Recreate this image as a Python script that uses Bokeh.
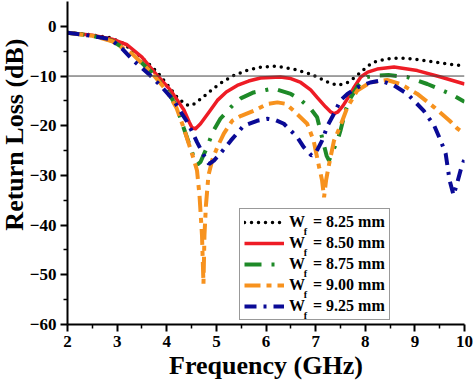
from bokeh.plotting import figure
from bokeh.models import Span, Label, FixedTicker, Range1d, Title
from bokeh.embed import file_html
from bokeh.resources import INLINE

# ---------------- data ----------------
freq_825 = [2.0, 2.4, 2.87, 3.1, 3.4, 3.6, 3.81, 4.0, 4.21, 4.38, 4.46, 4.54, 4.7, 4.94, 5.15, 5.35, 5.6, 5.89,
            6.2, 6.56, 6.9, 7.1, 7.24, 7.44, 7.64, 7.8, 7.91, 8.05, 8.17, 8.4, 8.58, 8.8, 8.98, 9.2, 9.39, 9.7, 10.0]
rl_825 = [-1.3, -1.6, -2.3, -3.3, -5.5, -7.2, -9.2, -11.6, -14.3, -15.7, -16.0, -15.7, -14.5, -12.5, -11.0, -9.9, -8.9, -8.2,
          -8.0, -8.6, -9.6, -10.5, -11.2, -11.9, -11.3, -10.2, -9.2, -8.0, -7.2, -6.6, -6.4, -6.4, -6.6, -6.9, -7.2, -7.6, -8.0]

freq_850 = [2.0, 2.5, 2.9, 3.2, 3.5, 3.81, 4.08, 4.35, 4.45, 4.51, 4.58, 4.68, 4.85, 5.02, 5.2, 5.42, 5.65, 5.89,
            6.29, 6.5, 6.7, 6.9, 7.03, 7.2, 7.3, 7.37, 7.45, 7.55, 7.64, 7.78, 7.91, 8.05, 8.24, 8.58, 9.05, 9.52, 10.0]
rl_850 = [-1.3, -1.8, -2.6, -3.7, -6.2, -9.9, -12.9, -16.9, -19.2, -20.4, -20.6, -19.6, -17.3, -14.9, -13.2, -11.9, -11.0, -10.4,
          -10.2, -10.5, -11.3, -12.8, -14.3, -16.2, -17.2, -17.6, -17.2, -16.0, -14.6, -12.2, -10.2, -9.2, -8.6, -8.2, -8.9, -10.2, -11.6]

freq_875 = [2.0, 2.5, 2.9, 3.3, 3.7, 4.0, 4.2, 4.34, 4.48, 4.56, 4.62, 4.68, 4.8, 4.94, 5.08, 5.3, 5.49, 5.75, 6.0, 6.15,
            6.5, 6.7, 6.9, 7.03, 7.16, 7.22, 7.27, 7.33, 7.44, 7.5, 7.6, 7.7, 7.85, 8.04, 8.24, 8.47, 8.85, 9.25, 9.72, 10.0]
rl_875 = [-1.3, -1.9, -2.9, -5.5, -9.3, -12.8, -16.2, -20.4, -24.4, -26.8, -27.8, -27.3, -24.6, -21.0, -18.6, -16.2, -14.5, -13.3, -12.8, -12.5,
          -13.6, -14.8, -16.6, -18.3, -23.6, -26.0, -27.0, -25.5, -23.0, -21.0, -17.0, -14.5, -12.0, -10.2, -9.9, -9.8, -10.2, -11.6, -13.6, -15.2]

freq_900 = [2.0, 2.5, 2.9, 3.3, 3.7, 4.0, 4.2, 4.34, 4.54, 4.61, 4.66, 4.71, 4.74, 4.76, 4.79, 4.84, 4.92, 5.02, 5.15, 5.32,
            5.5, 5.75, 6.03, 6.23, 6.4, 6.56, 6.83, 6.96, 7.07, 7.13, 7.17, 7.21, 7.26, 7.37, 7.5, 7.64, 7.84, 8.1, 8.44,
            8.71, 9.05, 9.39, 9.7, 9.86, 10.0]
rl_900 = [-1.3, -1.9, -3.0, -5.5, -9.4, -13.0, -16.5, -20.4, -26.6, -29.0, -34.0, -42.0, -51.8, -42.0, -36.0, -30.0, -26.8, -24.3, -21.6, -19.0,
          -18.0, -17.0, -15.6, -15.3, -15.6, -17.0, -19.6, -23.0, -28.3, -31.0, -34.4, -31.0, -28.3, -23.0, -20.0, -16.3, -12.9, -11.3, -10.8,
          -11.6, -13.6, -16.3, -19.0, -20.6, -21.6]

freq_925 = [2.0, 2.4, 2.87, 3.1, 3.33, 3.67, 3.9, 4.14, 4.3, 4.41, 4.5, 4.61, 4.75, 4.85, 4.95, 5.08, 5.29, 5.55, 5.82,
            6.03, 6.2, 6.36, 6.63, 6.76, 6.92, 7.0, 7.13, 7.24, 7.37, 7.5, 7.64, 7.84, 8.1, 8.31, 8.58, 8.85, 9.18,
            9.39, 9.52, 9.62, 9.7, 9.78, 9.85, 9.92, 10.0]
rl_925 = [-1.3, -1.8, -2.6, -4.5, -6.9, -9.9, -12.2, -14.9, -17.5, -19.2, -21.0, -23.3, -26.0, -27.7, -27.0, -25.6, -23.0, -20.0, -19.0,
          -18.6, -18.9, -19.6, -22.3, -24.3, -26.0, -25.5, -23.0, -20.0, -17.6, -14.9, -13.6, -12.3, -11.3, -10.9, -11.9, -13.6, -17.0,
          -20.0, -23.0, -25.6, -31.0, -34.0, -31.6, -29.0, -26.7]

series_labels = ["8.25 mm", "8.50 mm", "8.75 mm", "9.00 mm", "9.25 mm"]
x_ticks = [2, 3, 4, 5, 6, 7, 8, 9, 10]
y_ticks = [0, -10, -20, -30, -40, -50, -60]
threshold_db = -10
x_title = "Frequency (GHz)"
y_title = "Return Loss (dB)"

# ---------------- figure ----------------
FONT = "Liberation Serif"
p = figure(width=474, height=387, output_backend="svg", toolbar_location=None,
           x_range=Range1d(2, 10), y_range=Range1d(-60, 5),
           min_border_left=67, min_border_right=10, min_border_top=1, min_border_bottom=63)
p.grid.visible = False
p.outline_line_color = None
p.background_fill_color = "white"
p.border_fill_color = "white"

for ax in (p.xaxis[0], p.yaxis[0]):
    ax.axis_line_width = 2
    ax.axis_line_color = "black"
    ax.major_tick_line_width = 2
    ax.minor_tick_line_width = 1.5
    ax.major_tick_in = 0
    ax.major_tick_out = 7
    ax.minor_tick_in = 0
    ax.minor_tick_out = 4
    ax.major_label_text_font = FONT
    ax.major_label_text_font_style = "bold"
    ax.major_label_text_font_size = "17px"
    ax.major_label_text_color = "black"

p.xaxis[0].ticker = FixedTicker(ticks=x_ticks, minor_ticks=[v + 0.5 for v in x_ticks[:-1]])
p.yaxis[0].ticker = FixedTicker(ticks=y_ticks, minor_ticks=[v - 5 for v in y_ticks[:-1]])
p.xaxis[0].major_label_standoff = 4
p.yaxis[0].major_label_standoff = 4

p.xaxis[0].axis_label = x_title
p.xaxis[0].axis_label_text_font = FONT
p.xaxis[0].axis_label_text_font_style = "bold"
p.xaxis[0].axis_label_text_font_size = "26px"
p.xaxis[0].axis_label_text_color = "black"
p.xaxis[0].axis_label_standoff = 1

p.add_layout(Title(text=y_title, align="right", offset=37, standoff=-5,
                   text_font=FONT, text_font_style="bold", text_font_size="26px",
                   text_color="black"), "left")

p.add_layout(Span(location=threshold_db, dimension="width", line_color="#444444", line_width=1))

p.line(freq_825, rl_825, line_color="black", line_width=3.5, line_dash="0 7", line_cap="round",
       legend_label="W\u00a0\u00a0= " + series_labels[0])
p.line(freq_850, rl_850, line_color="#ee1c25", line_width=3.5, line_join="round",
       legend_label="W\u00a0\u00a0= " + series_labels[1])
p.line(freq_875, rl_875, line_color="#1e8a28", line_width=4, line_dash="17 10 3 10",
       legend_label="W\u00a0\u00a0= " + series_labels[2])
p.line(freq_900, rl_900, line_color="#f7921e", line_width=4, line_dash="16 6 5 6",
       legend_label="W\u00a0\u00a0= " + series_labels[3])
p.line(freq_925, rl_925, line_color="#0a0a96", line_width=4, line_dash="12 7 3 7",
       legend_label="W\u00a0\u00a0= " + series_labels[4])

lg = p.legend[0]
lg.location = (172, 4)
lg.margin = 0
lg.padding = 4
lg.spacing = 3
lg.label_height = 18
lg.glyph_height = 18
lg.glyph_width = 40
lg.label_standoff = 5
lg.label_text_font = FONT
lg.label_text_font_style = "bold"
lg.label_text_font_size = "16px"
lg.label_text_color = "black"
lg.border_line_color = "#333333"
lg.border_line_width = 1.5
lg.background_fill_alpha = 0

# subscript "f" of W_f in each legend row
for i in range(len(series_labels)):
    p.add_layout(Label(x=238, y=93 - 21 * i, x_units="screen", y_units="screen", text="f",
                       text_font=FONT, text_font_style="bold", text_font_size="10px",
                       text_align="center", text_baseline="middle", text_color="black"))

open("out.html", "w").write(file_html(p, INLINE))
